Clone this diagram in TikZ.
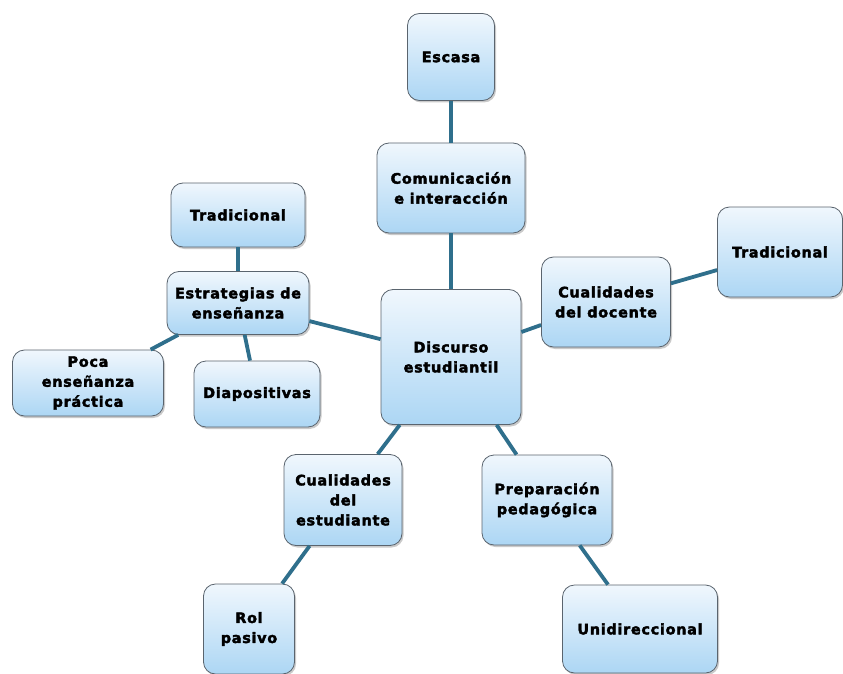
\documentclass[tikz,border=0pt]{standalone}
\usepackage{fontspec}
\usepackage{tikz}
\usetikzlibrary{shadows}
\newfontfamily\boxfont[LetterSpace=5,FakeBold=2.6]{DejaVu Sans Bold}
\definecolor{linkblue}{RGB}{47,111,140}
\definecolor{boxtop}{RGB}{240,247,253}
\definecolor{boxbottom}{RGB}{172,214,244}
\definecolor{boxline}{RGB}{90,100,110}
\tikzset{topic/.style={rectangle, rounded corners=12pt, draw=boxline, line width=0.8pt,
  top color=boxtop, bottom color=boxbottom, inner sep=0pt, align=center,
  font=\boxfont\fontsize{14.4}{20}\selectfont,
  drop shadow={shadow xshift=1.5pt, shadow yshift=-2pt, opacity=0.35, fill=black!60}}}
\tikzset{link/.style={line width=3.8pt, linkblue}}

\begin{document}
\begin{tikzpicture}
[x=1pt,y=-1pt]
%mapa del discurso estudiantil con sus categorias
\useasboundingbox (0,0) rectangle (843,674);
\node (esc) at (451,57)[topic, minimum width=87pt, minimum height=87pt]{Escasa};
\node (com) at (451,188)[topic, minimum width=148pt, minimum height=90pt]{Comunicación\\e interacción};
\node (trl) at (238,215)[topic, minimum width=134pt, minimum height=64pt]{Tradicional};
\node (est) at (238,303)[topic, minimum width=142pt, minimum height=63pt]{Estrategias de\\enseñanza};
\node (poc) at (88,383)[topic, minimum width=151pt, minimum height=66pt]{Poca\\enseñanza\\práctica};
\node (dia) at (257,394)[topic, minimum width=126pt, minimum height=66pt]{Diapositivas};
\node (dis) at (451,357)[topic, minimum width=140pt, minimum height=135pt]{Discurso\\estudiantil};
\node (doc) at (606,302)[topic, minimum width=129pt, minimum height=90pt]{Cualidades\\del docente};
\node (trr) at (780,252)[topic, minimum width=125pt, minimum height=90pt]{Tradicional};
\node (cue) at (343,500)[topic, minimum width=118pt, minimum height=91pt]{Cualidades\\del\\estudiante};
\node (pre) at (547,500)[topic, minimum width=130pt, minimum height=90pt]{Preparación\\pedagógica};
\node (rol) at (249,629)[topic, minimum width=91pt, minimum height=90pt]{Rol\\pasivo};
\node (uni) at (640,629)[topic, minimum width=155pt, minimum height=88pt]{Unidireccional};
\draw[link] (esc)--(com);
\draw[link] (com)--(dis);
\draw[link] (trl)--(est);
\draw[link] (est)--(dis);
\draw[link] (est)--(poc);
\draw[link] (est)--(dia);
\draw[link] (dis)--(doc);
\draw[link] (doc)--(trr);
\draw[link] (dis)--(cue);
\draw[link] (dis)--(pre);
\draw[link] (cue)--(rol);
\draw[link] (pre)--(uni);
\end{tikzpicture}
\end{document}
